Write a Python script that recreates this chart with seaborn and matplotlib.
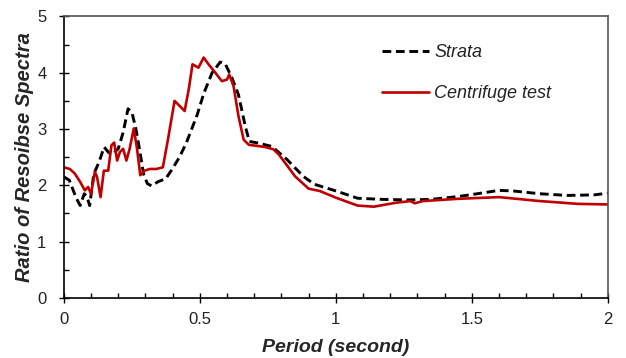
import numpy as np
import pandas as pd
import matplotlib
matplotlib.use('Agg')
import matplotlib.pyplot as plt
from matplotlib.ticker import MultipleLocator
import seaborn as sns

# Strata (dashed) values
strata_period = [0, 0.02, 0.045, 0.06, 0.075, 0.085, 0.095, 0.11, 0.13, 0.148,
                 0.165, 0.18, 0.2, 0.218, 0.236, 0.25, 0.265, 0.28, 0.293, 0.307,
                 0.322, 0.345, 0.375, 0.4, 0.425, 0.45, 0.47, 0.49, 0.515, 0.545,
                 0.575, 0.593, 0.618, 0.642, 0.667, 0.682, 0.715, 0.765, 0.82, 0.88,
                 0.92, 1.0, 1.08, 1.17, 1.27, 1.35, 1.45, 1.52, 1.6, 1.65,
                 1.75, 1.85, 1.95, 2.0]
strata_ratio = [2.15, 2.09, 1.78, 1.64, 1.85, 1.8, 1.64, 2.2, 2.42, 2.68,
                2.58, 2.56, 2.65, 2.94, 3.36, 3.3, 3.0, 2.59, 2.2, 2.03,
                1.99, 2.06, 2.12, 2.3, 2.5, 2.75, 3.0, 3.25, 3.64, 4.0,
                4.19, 4.16, 3.91, 3.61, 3.05, 2.78, 2.75, 2.69, 2.46, 2.16,
                2.02, 1.9, 1.77, 1.75, 1.74, 1.75, 1.8, 1.85, 1.91, 1.9,
                1.85, 1.82, 1.83, 1.86]

# Centrifuge test (solid red)
test_period = [0, 0.022, 0.04, 0.06, 0.077, 0.089, 0.1, 0.114, 0.122, 0.135,
               0.147, 0.163, 0.175, 0.185, 0.196, 0.206, 0.218, 0.23, 0.242, 0.257,
               0.269, 0.281, 0.297, 0.316, 0.34, 0.364, 0.383, 0.407, 0.426, 0.444,
               0.459, 0.473, 0.495, 0.514, 0.532, 0.557, 0.581, 0.6, 0.608, 0.624,
               0.642, 0.661, 0.68, 0.74, 0.77, 0.79, 0.85, 0.9, 0.94, 1.0,
               1.08, 1.14, 1.22, 1.275, 1.29, 1.32, 1.45, 1.6, 1.75, 1.89, 2.0]
test_ratio = [2.32, 2.29, 2.21, 2.06, 1.91, 1.97, 1.85, 2.24, 2.15, 1.79,
              2.26, 2.26, 2.71, 2.76, 2.44, 2.59, 2.65, 2.44, 2.65, 3.01,
              2.65, 2.18, 2.26, 2.29, 2.29, 2.32, 2.82, 3.5, 3.41, 3.32,
              3.7, 4.15, 4.09, 4.27, 4.15, 4.0, 3.85, 3.88, 3.97, 3.76,
              3.23, 2.81, 2.72, 2.68, 2.64, 2.55, 2.16, 1.94, 1.9, 1.78,
              1.64, 1.62, 1.69, 1.72, 1.68, 1.72, 1.76, 1.79, 1.72, 1.67, 1.66]

sns.set_style("white")
plt.rcParams['font.family'] = ['Liberation Sans', 'DejaVu Sans']

fig = plt.figure(figsize=(6.26, 3.58), dpi=100)
ax = fig.add_axes([0.102, 0.168, 0.869, 0.786])

sns.lineplot(x=strata_period, y=strata_ratio, ax=ax, color='black', lw=2.1,
             linestyle=(0, (3, 1.6)), label='Strata', sort=False)
sns.lineplot(x=test_period, y=test_ratio, ax=ax, color='#c00000', lw=1.9,
             label='Centrifuge test', sort=False)

ax.set_xlim(0, 2)
ax.set_ylim(0, 5)
ax.xaxis.set_major_locator(MultipleLocator(0.5))
ax.xaxis.set_minor_locator(MultipleLocator(0.1))
ax.yaxis.set_major_locator(MultipleLocator(1))
ax.yaxis.set_minor_locator(MultipleLocator(0.5))
ax.set_xticks([0, 0.5, 1, 1.5, 2])
ax.set_xticklabels(['0', '0.5', '1', '1.5', '2'])

ax.tick_params(which='major', direction='inout', length=7, width=1, color='black',
               labelsize=12, labelcolor='#222222', bottom=True, left=True)
ax.tick_params(which='minor', direction='in', length=3.5, width=1, color='black',
               bottom=True, left=True)
ax.tick_params(axis='x', which='major', pad=7)
ax.tick_params(axis='y', which='major', pad=9)

for side in ['left', 'bottom']:
    ax.spines[side].set_color('black')
    ax.spines[side].set_linewidth(1.2)
for side in ['top', 'right']:
    ax.spines[side].set_color('#555555')
    ax.spines[side].set_linewidth(1.2)

ax.set_xlabel('Period (second)', fontsize=14, fontweight='bold', fontstyle='italic')
ax.set_ylabel('Ratio of Resoibse Spectra', fontsize=14.5, fontweight='bold',
              fontstyle='italic')
ax.xaxis.set_label_coords(0.5, -0.145)
ax.yaxis.set_label_coords(-0.055, 0.5)

leg = ax.legend(loc='upper left', bbox_to_anchor=(0.555, 0.96), frameon=False,
                fontsize=13, handlelength=2.6, handletextpad=0.3, labelspacing=1.35)
for t in leg.get_texts():
    t.set_fontstyle('italic')
    t.set_color('#222222')

fig.savefig('out.png', dpi=100)
